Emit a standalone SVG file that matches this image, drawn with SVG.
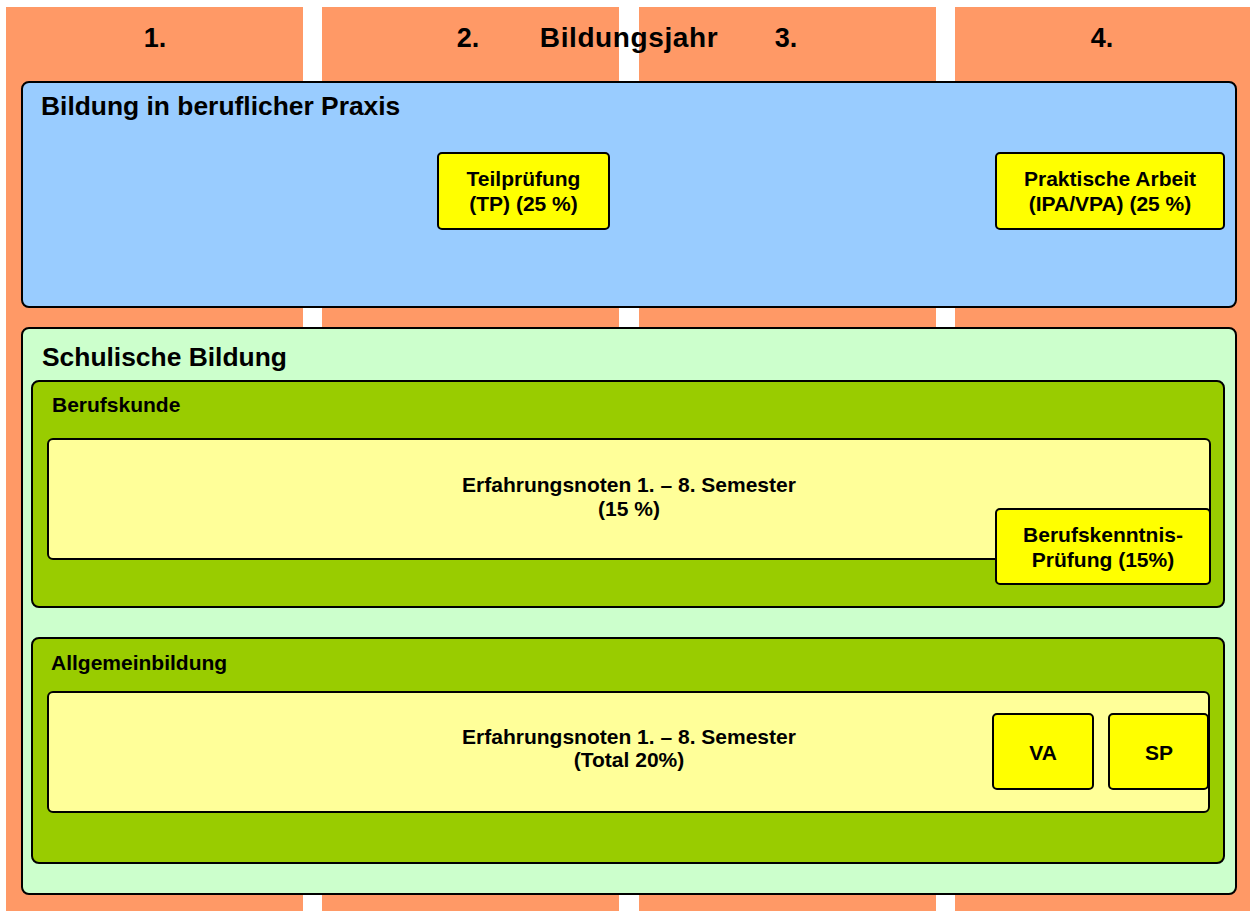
<svg xmlns="http://www.w3.org/2000/svg" width="1250" height="911" viewBox="0 0 1250 911">
<style>
text{font-family:"Liberation Sans",Arial,sans-serif;font-weight:bold;fill:#000}
.col{fill:#FF9966}
.box{stroke:#000;stroke-width:2}
.h1{font-size:26.4px}
.h2{font-size:21px}
.t{font-size:21px;text-anchor:middle}
.num{font-size:27px;text-anchor:middle}
.yr{font-size:28px;letter-spacing:0.6px;text-anchor:middle}
</style>
<rect x="0" y="0" width="1250" height="911" fill="#fff"/>
<g id="columns">
<rect class="col" x="6" y="7" width="297" height="904"/>
<rect class="col" x="322" y="7" width="297" height="904"/>
<rect class="col" x="639" y="7" width="297" height="904"/>
<rect class="col" x="955" y="7" width="295" height="904"/>
<text class="num" x="155" y="47">1.</text>
<text class="num" x="468" y="47">2.</text>
<text class="yr" x="629" y="47">Bildungsjahr</text>
<text class="num" x="786" y="47">3.</text>
<text class="num" x="1102" y="47">4.</text>
</g>
<g id="praxis">
<rect class="box" x="22" y="82" width="1214" height="225" rx="7" fill="#99CCFF"/>
<text class="h1" x="41" y="115">Bildung in beruflicher Praxis</text>
</g>
<g id="tp">
<rect class="box" x="438" y="153" width="171" height="76" rx="4" fill="#FFFF00"/>
<text class="t" x="523.5" y="186">Teilprüfung</text>
<text class="t" x="523.5" y="211">(TP) (25 %)</text>
</g>
<g id="ipa">
<rect class="box" x="996" y="153" width="228" height="76" rx="4" fill="#FFFF00"/>
<text class="t" x="1110" y="186">Praktische Arbeit</text>
<text class="t" x="1110" y="211">(IPA/VPA) (25 %)</text>
</g>
<g id="schule">
<rect class="box" x="22" y="328" width="1214" height="566" rx="7" fill="#CCFFCC"/>
<text class="h1" x="42" y="366">Schulische Bildung</text>
</g>
<g id="berufskunde">
<rect class="box" x="32" y="381" width="1192" height="226" rx="7" fill="#99CC00"/>
<text class="h2" x="52" y="412">Berufskunde</text>
</g>
<g id="bk-noten">
<rect class="box" x="48" y="439" width="1162" height="120" rx="5" fill="#FFFF99"/>
<text class="t" x="629" y="492">Erfahrungsnoten 1. – 8. Semester</text>
<text class="t" x="629" y="516">(15 %)</text>
</g>
<g id="bk-pruefung">
<rect class="box" x="996" y="509" width="214" height="75" rx="4" fill="#FFFF00"/>
<text class="t" x="1103" y="542">Berufskenntnis-</text>
<text class="t" x="1103" y="567">Prüfung (15%)</text>
</g>
<g id="allgemeinbildung">
<rect class="box" x="32" y="638" width="1192" height="225" rx="7" fill="#99CC00"/>
<text class="h2" x="51" y="670">Allgemeinbildung</text>
</g>
<g id="ab-noten">
<rect class="box" x="48" y="692" width="1161" height="120" rx="5" fill="#FFFF99"/>
<text class="t" x="629" y="744">Erfahrungsnoten 1. – 8. Semester</text>
<text class="t" x="629" y="767">(Total 20%)</text>
</g>
<g id="va">
<rect class="box" x="993" y="714" width="100" height="75" rx="4" fill="#FFFF00"/>
<text class="t" x="1043" y="760">VA</text>
</g>
<g id="sp">
<rect class="box" x="1109" y="714" width="99" height="75" rx="4" fill="#FFFF00"/>
<text class="t" x="1159" y="760">SP</text>
</g>
<g id="connectors"/>
</svg>
